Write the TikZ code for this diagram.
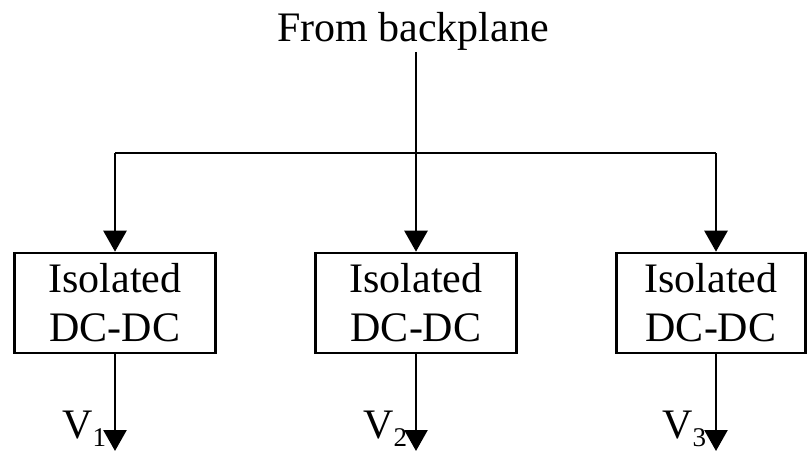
\documentclass[tikz,border=0pt]{standalone}
\usepackage{fontspec}
\setmainfont{Liberation Serif}
\usetikzlibrary{arrows.meta}
\begin{document}
\begin{tikzpicture}[x=1pt,y=-1pt,
  wire/.style={line width=2.6pt},
  arr/.style={wire,-{Triangle[width=23pt,length=21pt]}},
  conv/.style={draw,line width=2.6pt,minimum height=100pt,inner sep=0pt,
    align=center,font=\fontsize{42}{49}\selectfont},
  lbl/.style={inner sep=0pt,font=\fontsize{42}{49}\selectfont}]
\useasboundingbox (0,0) rectangle (807,452);
\node[lbl,anchor=base] (src) at (413,42) {From backplane};
\coordinate (top) at (416,52);
\coordinate (junc) at (416,153);
\node[conv,minimum width=201pt] (b1) at (115,303) {Isolated\\DC-DC};
\node[conv,minimum width=201pt] (b2) at (416,303) {Isolated\\DC-DC};
\node[conv,minimum width=189pt] (b3) at (711,303) {Isolated\\DC-DC};
\coordinate (c1) at (115,153);
\coordinate (c3) at (716,153);
\draw[wire] (top) -- (junc);
\draw[wire] (c1) -- (c3);
\draw[arr] (c1) -- (c1 |- b1.north);
\draw[arr] (junc) -- (b2.north);
\draw[arr] (c3) -- (c3 |- b3.north);
\coordinate (o1) at (115,451);
\coordinate (o2) at (416,451);
\coordinate (o3) at (716,451);
\draw[arr] (b1.south) -- (o1);
\draw[arr] (b2.south) -- (o2);
\draw[arr] (b3.south -| o3) -- (o3);
\node[lbl,anchor=base west] (v1) at (62,438) {V\raisebox{-8pt}{\fontsize{27}{27}\selectfont 1}};
\node[lbl,anchor=base west] (v2) at (363,438) {V\raisebox{-8pt}{\fontsize{27}{27}\selectfont 2}};
\node[lbl,anchor=base west] (v3) at (662,438) {V\raisebox{-8pt}{\fontsize{27}{27}\selectfont 3}};
\end{tikzpicture}
\end{document}
